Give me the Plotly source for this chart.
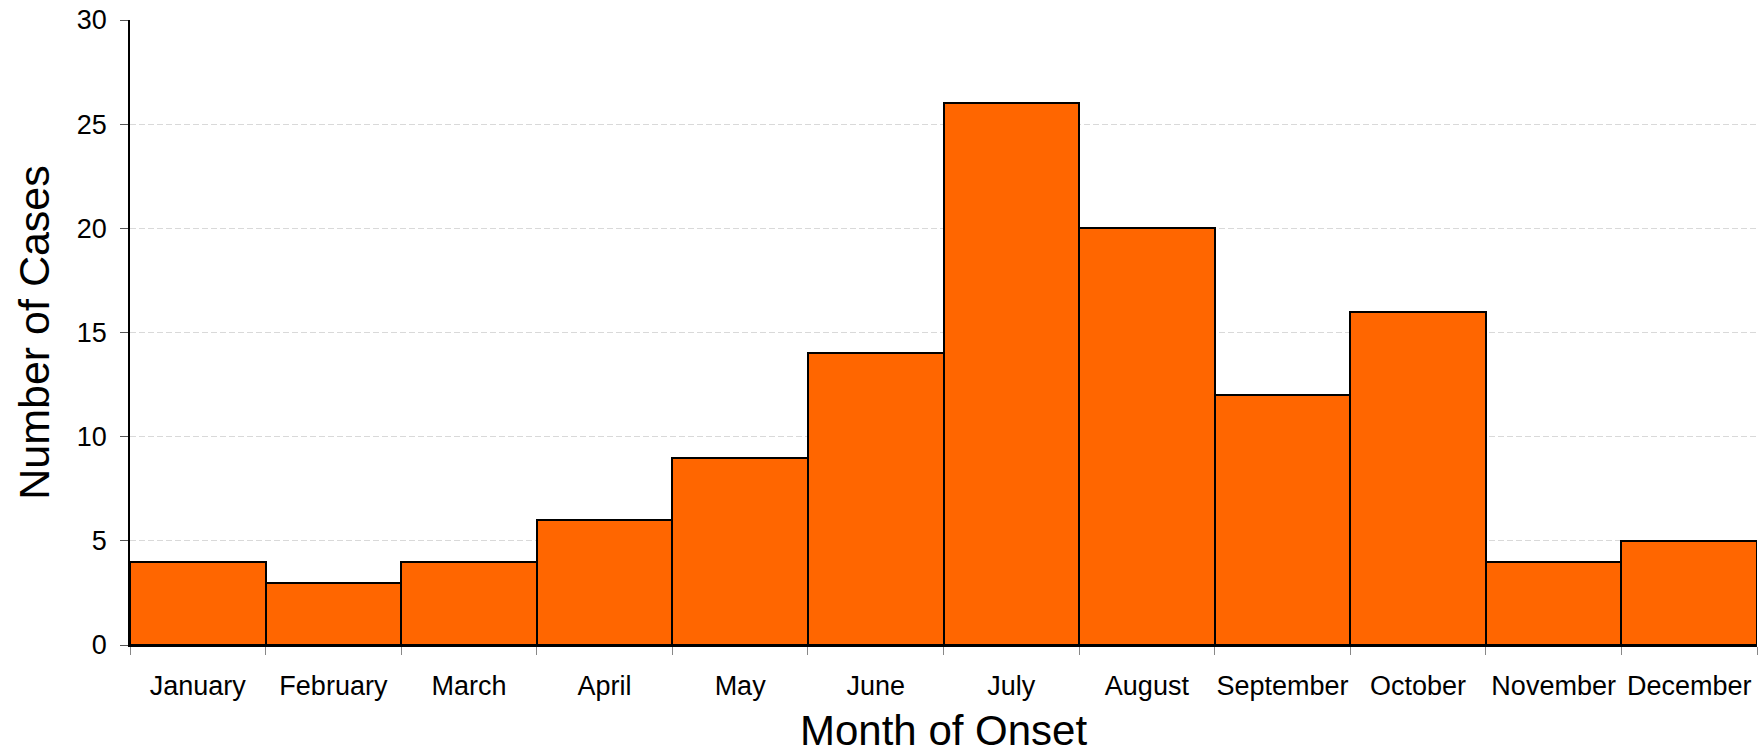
import plotly.graph_objects as go

months = ["January", "February", "March", "April", "May", "June", "July",
          "August", "September", "October", "November", "December"]
cases = [4, 3, 4, 6, 9, 14, 26, 20, 12, 16, 4, 5]
y_ticks = [0, 5, 10, 15, 20, 25, 30]
x_title = "Month of Onset"
y_title = "Number of Cases"

FONT = "Liberation Sans, Arial, sans-serif"

fig = go.Figure(go.Bar(
    x=months, y=cases,
    marker=dict(color="#FF6600", line=dict(color="#000000", width=2)),
))

fig.update_layout(
    width=1762, height=756,
    margin=dict(l=130, r=5, t=20, b=111),
    paper_bgcolor="white", plot_bgcolor="white",
    bargap=0,
    showlegend=False,
    font=dict(family=FONT, color="#000000"),
)

fig.add_annotation(
    text=x_title, xref="paper", yref="paper", x=0.5, y=0,
    xanchor="center", yanchor="middle", yshift=-85, showarrow=False,
    font=dict(size=42, family=FONT, color="#000000"),
)

fig.update_xaxes(
    tickfont=dict(size=27, family=FONT),
    tickangle=0,
    tickson="boundaries", ticks="outside", ticklen=8, tickcolor="#888888",
    showline=True, linecolor="#000000", linewidth=1.5,
    showgrid=False,
    ticklabelstandoff=16,
    automargin=False,
)

fig.update_yaxes(
    title=dict(text=y_title, font=dict(size=43, family=FONT), standoff=14),
    tickfont=dict(size=27, family=FONT),
    range=[0, 30], tickvals=y_ticks,
    ticks="outside", ticklen=8, tickcolor="#555555",
    showline=True, linecolor="#000000", linewidth=1.5,
    showgrid=True, gridcolor="#d9d9d9", gridwidth=1, griddash="6px,3px",
    zeroline=False,
    ticklabelstandoff=8,
    automargin=False,
)

fig.write_html("out.html", config={"displayModeBar": False},
               post_script="document.body.style.margin='0';document.body.style.overflow='hidden';")
